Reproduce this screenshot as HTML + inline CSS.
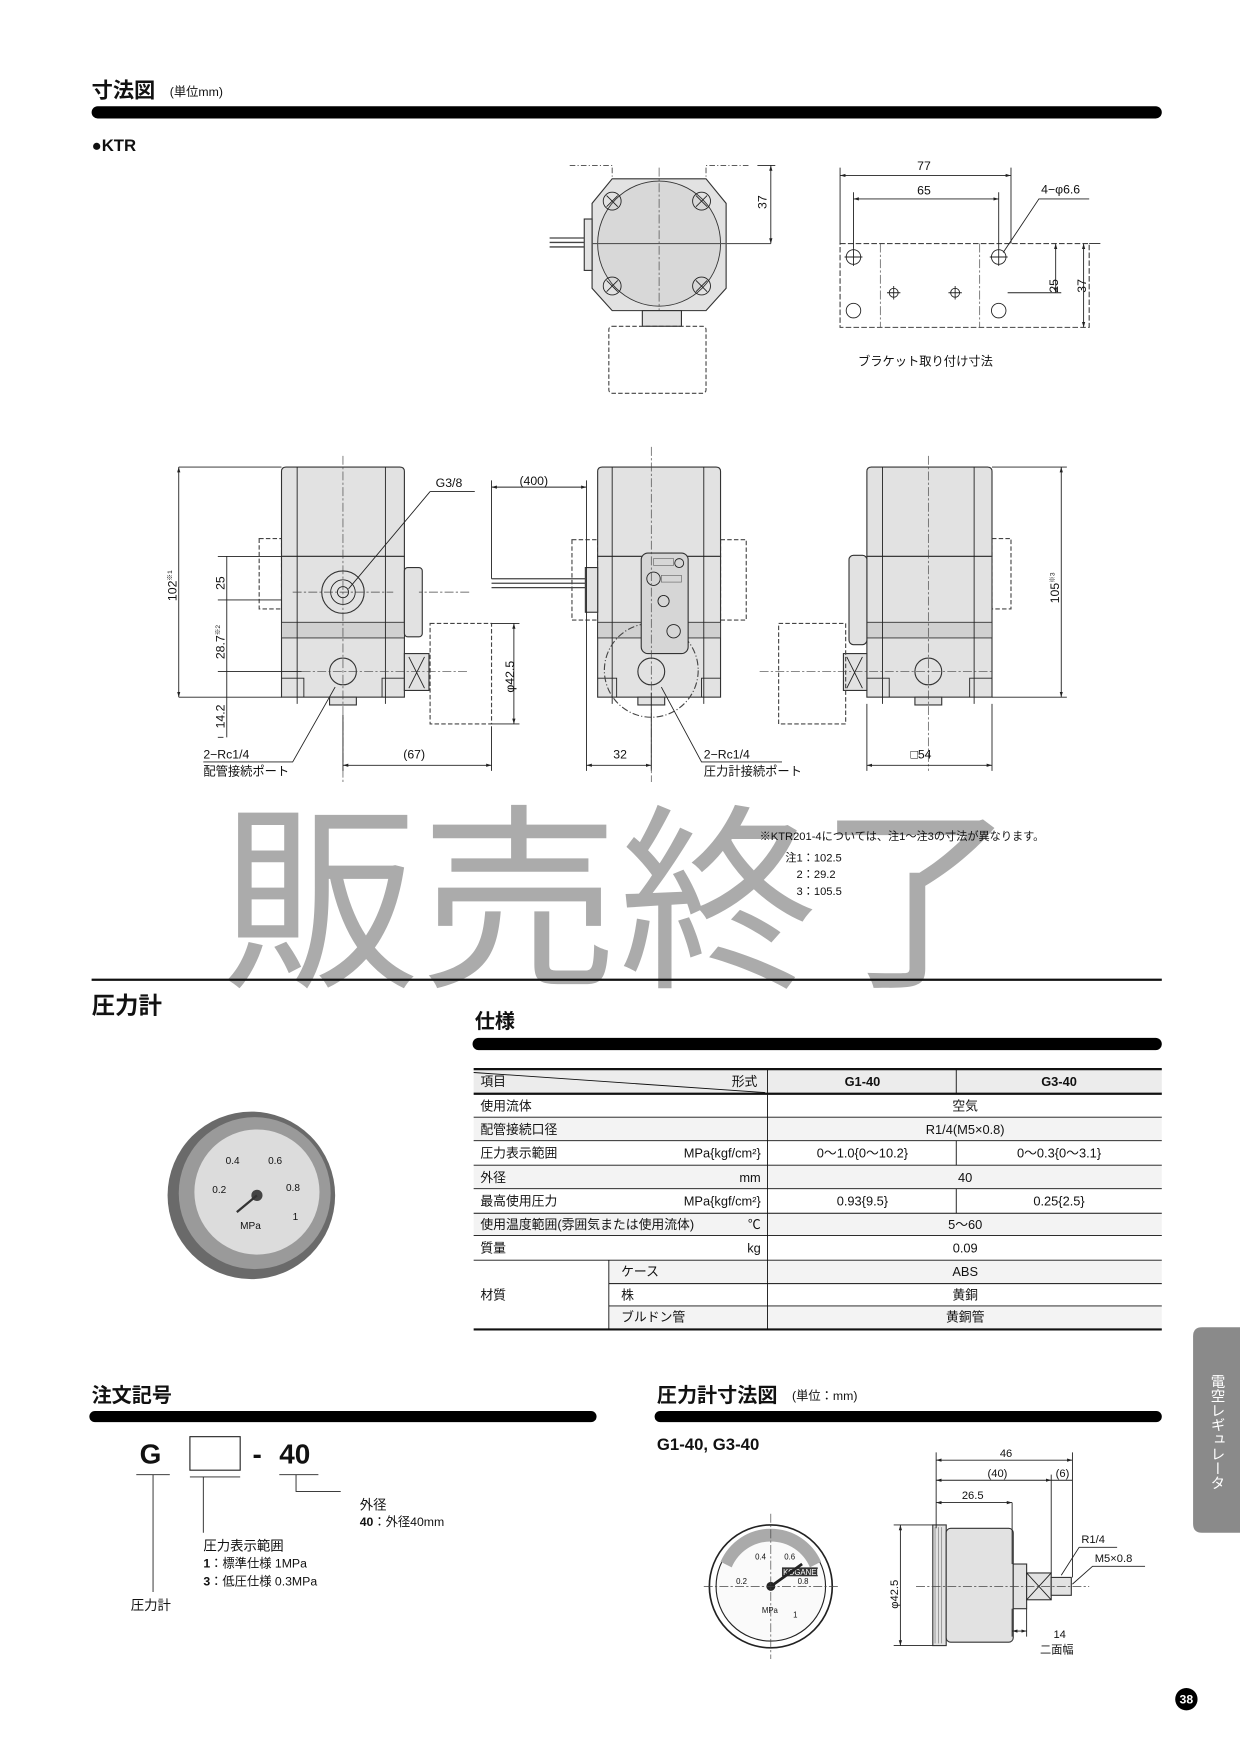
<!DOCTYPE html>
<html><head><meta charset="utf-8">
<style>
html,body{margin:0;padding:0;background:#fff;}
svg{display:block;}
text{font-family:"Liberation Sans","Noto Sans CJK JP",sans-serif;fill:#111;}
.b{fill:#e2e2e2;stroke:#333;stroke-width:1;}
.l{stroke:#222;stroke-width:0.8;fill:none;}
.d{stroke:#444;stroke-width:0.8;fill:none;stroke-dasharray:5 2 1 2;}
.c{stroke:#444;stroke-width:0.6;fill:none;stroke-dasharray:8 2 2 2;}
.t{font-size:11px;}
.s{font-size:10px;}
</style></head><body>
<svg width="1240" height="1754" viewBox="0 0 1110 1570" xmlns="http://www.w3.org/2000/svg">
<defs>
<marker id="a" viewBox="0 0 10 10" refX="10" refY="5" markerWidth="6" markerHeight="6" orient="auto-start-reverse"><path d="M0,2L10,5L0,8z" fill="#222"/></marker>
</defs>

<!-- header -->
<text x="82" y="87" font-size="19" font-weight="bold">寸法図</text>
<text x="152" y="86" font-size="11">(単位mm)</text>
<rect x="82" y="95" width="958" height="11" rx="5.5" fill="#000"/>
<text x="82" y="135" font-size="15" font-weight="bold">●KTR</text>

<!-- top view -->
<path class="d" d="M510,148 H548 V160 M670,148 H632 V160"/>
<path class="b" d="M548,160 H632 L650,182 V258 L632,278 H548 L530,258 V182 Z"/>
<ellipse cx="590" cy="218" rx="55" ry="56" fill="#d8d8d8" stroke="#333" stroke-width="0.8"/>
<g class="l">
<circle cx="548" cy="180" r="8"/><path d="M543,175l10,10M553,175l-10,10"/>
<circle cx="628" cy="180" r="8"/><path d="M623,175l10,10M633,175l-10,10"/>
<circle cx="548" cy="256" r="8"/><path d="M543,251l10,10M553,251l-10,10"/>
<circle cx="628" cy="256" r="8"/><path d="M623,251l10,10M633,251l-10,10"/>
</g>
<rect x="523" y="196" width="7" height="46" class="b"/>
<path d="M492,213H523M492,217H523M492,221H523" stroke="#444" stroke-width="1.2"/>
<line x1="590" y1="150" x2="590" y2="290" class="c"/>
<line x1="530" y1="218" x2="690" y2="218" stroke="#555" stroke-width="1"/>
<rect x="575" y="278" width="35" height="14" class="b"/>
<rect x="545" y="292" width="87" height="60" rx="3" fill="none" stroke="#444" stroke-dasharray="4 2"/>
<line x1="678" y1="148" x2="694" y2="148" class="l"/><line x1="690" y1="148" x2="690" y2="218" class="l" marker-start="url(#a)" marker-end="url(#a)"/>
<text transform="translate(686,187) rotate(-90)" class="t">37</text>

<!-- bracket -->
<rect x="752" y="218" width="223" height="75" fill="none" stroke="#444" stroke-dasharray="5 2"/>
<path class="c" d="M788,218V293M877,218V293"/>
<g class="l">
<circle cx="764" cy="230" r="6.5"/><circle cx="894" cy="230" r="6.5"/>
<circle cx="764" cy="278" r="6.5"/><circle cx="894" cy="278" r="6.5"/>
<circle cx="800" cy="262" r="4"/><circle cx="855" cy="262" r="4"/>
<path d="M794,262h12M800,256v12M849,262h12M855,256v12M756,230h16M764,222v16M886,230h16M894,222v16"/>
<path d="M752,150V218M905,150V218M764,172V222M894,172V222"/>
</g>
<line x1="752" y1="157" x2="905" y2="157" class="l" marker-start="url(#a)" marker-end="url(#a)"/>
<line x1="764" y1="178" x2="894" y2="178" class="l" marker-start="url(#a)" marker-end="url(#a)"/>
<text x="821" y="152" class="t">77</text><text x="821" y="174" class="t">65</text>
<text x="932" y="173" class="t">4−φ6.6</text>
<path class="l" d="M975,178H930L898,226"/>
<path class="l" d="M902,262H950M975,218H985"/>
<line x1="945" y1="218" x2="945" y2="262" class="l" marker-start="url(#a)" marker-end="url(#a)"/>
<line x1="970" y1="218" x2="970" y2="293" class="l" marker-start="url(#a)" marker-end="url(#a)"/>
<text transform="translate(947,262) rotate(-90)" class="t">25</text>
<text transform="translate(972,262) rotate(-90)" class="t">37</text>
<text x="768" y="327" class="t">ブラケット取り付け寸法</text>

<!-- view 1 -->
<rect x="232" y="482" width="20" height="63" fill="none" stroke="#444" stroke-dasharray="4 2"/>
<path class="b" d="M252,498V422Q252,418 256,418H358Q362,418 362,422V498Z"/>
<rect x="252" y="498" width="110" height="126" class="b"/>
<rect x="252" y="557" width="110" height="14" fill="#d0d0d0" stroke="#333" stroke-width="0.8"/>
<path class="l" d="M266,418V630M345,418V630M252,607H272V624M362,607H342V624"/>
<rect x="362" y="508" width="16" height="62" rx="3" class="b"/>
<circle cx="307" cy="530" r="19" class="b"/><circle cx="307" cy="530" r="11" class="l"/><circle cx="307" cy="530" r="5" class="l"/>
<circle cx="307" cy="601" r="12" class="b"/>
<rect x="295" y="624" width="24" height="7" class="b"/>
<rect x="362" y="585" width="22" height="33" class="b"/><path class="l" d="M366,588l14,28M380,588l-14,28"/>
<rect x="385" y="558" width="55" height="90" fill="none" stroke="#444" stroke-dasharray="4 2"/>
<path class="c" d="M307,408V700M262,530H352M270,601H420M420,530H375"/>
<path class="l" d="M160,418H252M160,624H252M195,498H252M195,537H252M195,601H270M195,660H200M440,558H465M440,648H465M307,640V690M440,650V690"/>
<line x1="160" y1="418" x2="160" y2="624" class="l" marker-start="url(#a)" marker-end="url(#a)"/>
<line x1="203" y1="498" x2="203" y2="537" class="l"/>
<line x1="203" y1="537" x2="203" y2="601" class="l"/>
<line x1="203" y1="601" x2="203" y2="660" class="l"/>
<line x1="460" y1="558" x2="460" y2="648" class="l" marker-start="url(#a)" marker-end="url(#a)"/>
<text transform="translate(158,538) rotate(-90)" class="t">102<tspan font-size="6" dy="-4">※1</tspan></text>
<text transform="translate(201,528) rotate(-90)" class="t">25</text>
<text transform="translate(201,590) rotate(-90)" class="t">28.7<tspan font-size="6" dy="-4">※2</tspan></text>
<text transform="translate(201,652) rotate(-90)" class="t">14.2</text>
<text transform="translate(460,620) rotate(-90)" class="t">φ42.5</text>
<text x="390" y="436" class="t">G3/8</text>
<path class="l" d="M385,440H425M385,440L312,527"/>
<line x1="307" y1="685" x2="440" y2="685" class="l" marker-start="url(#a)" marker-end="url(#a)"/>
<text x="361" y="679" class="t">(67)</text>
<text x="182" y="679" class="t">2−Rc1/4</text>
<text x="182" y="694" class="t">配管接続ポート</text>
<path class="l" d="M182,682H262L300,615"/>

<!-- view 2 -->
<rect x="512" y="483" width="23" height="72" fill="none" stroke="#444" stroke-dasharray="4 2"/>
<rect x="645" y="483" width="23" height="72" fill="none" stroke="#444" stroke-dasharray="4 2"/>
<path class="b" d="M535,498V422Q535,418 539,418H641Q645,418 645,422V498Z"/>
<rect x="535" y="498" width="110" height="126" class="b"/>
<rect x="535" y="557" width="110" height="14" fill="#d0d0d0" stroke="#333" stroke-width="0.8"/>
<path class="l" d="M548,418V630M630,418V630M535,607H552V624M645,607H628V624"/>
<circle cx="583" cy="600" r="42" fill="none" stroke="#444" stroke-dasharray="6 2 1 2"/>
<rect x="574" y="495" width="42" height="90" rx="6" fill="#d6d6d6" stroke="#333"/>
<rect x="585" y="500" width="18" height="6" fill="none" stroke="#555" stroke-width="0.5"/>
<rect x="592" y="515" width="18" height="6" fill="none" stroke="#555" stroke-width="0.5"/>
<g class="l"><circle cx="608" cy="504" r="4"/><circle cx="585" cy="518" r="6"/><circle cx="594" cy="538" r="5"/><circle cx="603" cy="565" r="6"/></g>
<circle cx="583" cy="601" r="12" class="b"/>
<rect x="571" y="624" width="24" height="7" class="b"/>
<rect x="524" y="508" width="11" height="40" class="b"/>
<path d="M440,518H524M440,522H524M440,526H524" stroke="#444" stroke-width="1.1"/>
<path class="c" d="M583,400V700"/>
<path class="l" d="M440,430V518M525,430V690M583,620V690"/>
<line x1="440" y1="436" x2="525" y2="436" class="l" marker-start="url(#a)" marker-end="url(#a)"/>
<text x="465" y="434" class="t">(400)</text>
<line x1="525" y1="685" x2="583" y2="685" class="l" marker-start="url(#a)" marker-end="url(#a)"/>
<text x="549" y="679" class="t">32</text>
<text x="630" y="679" class="t">2−Rc1/4</text>
<text x="630" y="694" class="t">圧力計接続ポート</text>
<path class="l" d="M700,682H628L592,615"/>

<!-- view 3 -->
<rect x="888" y="482" width="17" height="63" fill="none" stroke="#444" stroke-dasharray="4 2"/>
<path class="b" d="M776,498V422Q776,418 780,418H884Q888,418 888,422V498Z"/>
<rect x="776" y="498" width="112" height="126" class="b"/>
<rect x="776" y="557" width="112" height="14" fill="#d0d0d0" stroke="#333" stroke-width="0.8"/>
<path class="l" d="M790,418V630M872,418V630M776,607H796V624M888,607H868V624"/>
<rect x="760" y="497" width="16" height="80" rx="4" class="b"/>
<circle cx="831" cy="601" r="12" class="b"/>
<rect x="819" y="624" width="24" height="7" class="b"/>
<rect x="755" y="585" width="21" height="33" class="b"/><path class="l" d="M758,588l14,28M772,588l-14,28"/>
<rect x="697" y="558" width="60" height="90" fill="none" stroke="#444" stroke-dasharray="4 2"/>
<path class="c" d="M831,408V690M680,601H890"/>
<path class="l" d="M888,418H955M888,624H955M776,630V690M888,630V690"/>
<line x1="950" y1="418" x2="950" y2="624" class="l" marker-start="url(#a)" marker-end="url(#a)"/>
<text transform="translate(948,540) rotate(-90)" class="t">105<tspan font-size="6" dy="-4">※3</tspan></text>
<line x1="776" y1="685" x2="888" y2="685" class="l" marker-start="url(#a)" marker-end="url(#a)"/>
<text x="815" y="679" class="t">□54</text>

<!-- watermark -->
<text x="198" y="870" font-size="178" style="fill:#ababab" font-family="Noto Sans CJK JP">販売終了</text>

<!-- notes -->
<text x="680" y="752" class="s">※KTR201-4については、注1～注3の寸法が異なります。</text>
<text x="703" y="771" class="s">注1：102.5</text>
<text x="713" y="786" class="s">2：29.2</text>
<text x="713" y="801" class="s">3：105.5</text>

<line x1="82" y1="877" x2="1040" y2="877" stroke="#111" stroke-width="2"/>
<text x="82" y="907" font-size="21" font-weight="bold">圧力計</text>

<!-- spec -->
<text x="425" y="920" font-size="18" font-weight="bold">仕様</text>
<rect x="423" y="929" width="617" height="11" rx="5.5" fill="#000"/>
<g>
<rect x="424" y="957" width="616" height="22" fill="#ececec"/>
<rect x="424" y="1000" width="616" height="21" fill="#f3f3f3"/>
<rect x="424" y="1043" width="616" height="21" fill="#f3f3f3"/>
<rect x="424" y="1086" width="616" height="20" fill="#f3f3f3"/>
<rect x="545" y="1128" width="495" height="21" fill="#f3f3f3"/>
<rect x="545" y="1169" width="495" height="21" fill="#f3f3f3"/>
</g>
<g stroke="#111">
<line x1="424" y1="957" x2="1040" y2="957" stroke-width="2"/>
<line x1="424" y1="979" x2="1040" y2="979" stroke-width="2"/>
<line x1="424" y1="1190" x2="1040" y2="1190" stroke-width="2"/>
<g stroke-width="0.8">
<line x1="424" y1="1000" x2="1040" y2="1000"/><line x1="424" y1="1021" x2="1040" y2="1021"/>
<line x1="424" y1="1043" x2="1040" y2="1043"/><line x1="424" y1="1064" x2="1040" y2="1064"/>
<line x1="424" y1="1086" x2="1040" y2="1086"/><line x1="424" y1="1106" x2="1040" y2="1106"/>
<line x1="424" y1="1128" x2="1040" y2="1128"/>
<line x1="545" y1="1149" x2="1040" y2="1149"/><line x1="545" y1="1169" x2="1040" y2="1169"/>
<line x1="687" y1="957" x2="687" y2="1190"/><line x1="545" y1="1128" x2="545" y2="1190"/>
<line x1="856" y1="957" x2="856" y2="979"/><line x1="856" y1="1021" x2="856" y2="1043"/><line x1="856" y1="1064" x2="856" y2="1086"/>
<line x1="424" y1="960" x2="685" y2="978"/>
</g></g>
<g font-size="11.5">
<text x="430" y="972">項目</text><text x="655" y="972">形式</text>
<text x="772" y="972" font-weight="bold" text-anchor="middle">G1-40</text>
<text x="948" y="972" font-weight="bold" text-anchor="middle">G3-40</text>
<text x="430" y="994">使用流体</text><text x="864" y="994" text-anchor="middle">空気</text>
<text x="430" y="1015">配管接続口径</text><text x="864" y="1015" text-anchor="middle">R1/4(M5×0.8)</text>
<text x="430" y="1036">圧力表示範囲</text><text x="681" y="1036" text-anchor="end">MPa{kgf/cm²}</text>
<text x="772" y="1036" text-anchor="middle">0～1.0{0～10.2}</text><text x="948" y="1036" text-anchor="middle">0～0.3{0～3.1}</text>
<text x="430" y="1058">外径</text><text x="681" y="1058" text-anchor="end">mm</text><text x="864" y="1058" text-anchor="middle">40</text>
<text x="430" y="1079">最高使用圧力</text><text x="681" y="1079" text-anchor="end">MPa{kgf/cm²}</text>
<text x="772" y="1079" text-anchor="middle">0.93{9.5}</text><text x="948" y="1079" text-anchor="middle">0.25{2.5}</text>
<text x="430" y="1100">使用温度範囲(雰囲気または使用流体)</text><text x="681" y="1100" text-anchor="end">℃</text><text x="864" y="1100" text-anchor="middle">5～60</text>
<text x="430" y="1121">質量</text><text x="681" y="1121" text-anchor="end">kg</text><text x="864" y="1121" text-anchor="middle">0.09</text>
<text x="430" y="1163">材質</text>
<text x="556" y="1142">ケース</text><text x="864" y="1142" text-anchor="middle">ABS</text>
<text x="556" y="1163">株</text><text x="864" y="1163" text-anchor="middle">黄銅</text>
<text x="556" y="1183">ブルドン管</text><text x="864" y="1183" text-anchor="middle">黄銅管</text>
</g>

<!-- gauge photo -->
<circle cx="225" cy="1070" r="75" fill="#6a6a6a"/>
<circle cx="228" cy="1068" r="68" fill="#9a9a9a"/>
<circle cx="230" cy="1067" r="56" fill="#dcdcdc"/>
<g font-size="9" fill="#555"><text x="202" y="1042">0.4</text><text x="240" y="1042">0.6</text><text x="190" y="1068">0.2</text><text x="256" y="1066">0.8</text><text x="262" y="1092">1</text><text x="215" y="1100">MPa</text></g>
<circle cx="230" cy="1070" r="5" fill="#444"/>
<line x1="230" y1="1070" x2="212" y2="1085" stroke="#333" stroke-width="2"/>

<!-- order code -->
<text x="82" y="1255" font-size="18" font-weight="bold">注文記号</text>
<rect x="80" y="1263" width="454" height="10" rx="5" fill="#000"/>
<text x="125" y="1310" font-size="25" font-weight="bold">G</text>
<rect x="170" y="1286" width="45" height="30" fill="none" stroke="#222"/>
<text x="226" y="1310" font-size="25" font-weight="bold">-</text>
<text x="250" y="1310" font-size="25" font-weight="bold">40</text>
<path class="l" d="M122,1320H152M137,1320V1425M170,1322H215M182,1322V1372M250,1320H285M265,1320V1335H305"/>
<text x="322" y="1351" font-size="12">外径</text>
<text x="322" y="1366" font-size="11"><tspan font-weight="bold">40</tspan>：外径40mm</text>
<text x="182" y="1388" font-size="12">圧力表示範囲</text>
<text x="182" y="1403" font-size="11"><tspan font-weight="bold">1</tspan>：標準仕様 1MPa</text>
<text x="182" y="1419" font-size="11"><tspan font-weight="bold">3</tspan>：低圧仕様 0.3MPa</text>
<text x="117" y="1441" font-size="12">圧力計</text>

<!-- gauge dims -->
<text x="588" y="1255" font-size="18" font-weight="bold">圧力計寸法図</text>
<text x="709" y="1253" font-size="11">(単位：mm)</text>
<rect x="586" y="1263" width="454" height="10" rx="5" fill="#000"/>
<text x="588" y="1298" font-size="15" font-weight="bold">G1-40, G3-40</text>
<circle cx="690" cy="1420" r="55" fill="#fff" stroke="#222" stroke-width="1.5"/>
<circle cx="690" cy="1420" r="49" fill="#fafafa" stroke="#222"/>
<path d="M645,1398A49,49 0 0 1 735,1398L725,1403A38,38 0 0 0 655,1403Z" fill="#aaa"/>
<g font-size="7"><text x="676" y="1396">0.4</text><text x="702" y="1396">0.6</text><text x="659" y="1418">0.2</text><text x="714" y="1418">0.8</text><text x="710" y="1448">1</text><text x="682" y="1444">MPa</text></g>
<rect x="700" y="1403" width="32" height="8" fill="#333"/><text x="701" y="1410" font-size="7" style="fill:#fff">KOGANEI</text>
<circle cx="690" cy="1420" r="4" fill="#222"/>
<line x1="690" y1="1420" x2="718" y2="1400" stroke="#222" stroke-width="2.5"/>
<path class="c" d="M690,1355V1485M630,1420H750"/>
<!-- side -->
<rect x="835" y="1365" width="12" height="108" class="b"/>
<path d="M837,1367V1471M840,1367V1471M843,1367V1471" stroke="#666" stroke-width="0.5"/>
<rect x="847" y="1368" width="60" height="102" rx="4" class="b"/>
<rect x="907" y="1400" width="12" height="40" class="b"/>
<rect x="919" y="1408" width="22" height="24" class="b"/>
<path class="l" d="M919,1408l22,24M941,1408l-22,24"/>
<rect x="941" y="1412" width="18" height="16" class="b"/>
<path class="c" d="M820,1420H975"/>
<path class="l" d="M838,1300V1368M941,1320V1408M960,1300V1412M800,1365H835M800,1473H835M906,1440V1465M919,1440V1465"/>
<line x1="838" y1="1307" x2="960" y2="1307" class="l" marker-start="url(#a)" marker-end="url(#a)"/>
<line x1="838" y1="1325" x2="941" y2="1325" class="l" marker-start="url(#a)" marker-end="url(#a)"/>
<line x1="941" y1="1325" x2="960" y2="1325" class="l"/>
<line x1="838" y1="1345" x2="906" y2="1345" class="l" marker-start="url(#a)" marker-end="url(#a)"/>
<line x1="906" y1="1345" x2="906" y2="1400" class="l"/>
<line x1="806" y1="1365" x2="806" y2="1473" class="l" marker-start="url(#a)" marker-end="url(#a)"/>
<line x1="906" y1="1460" x2="919" y2="1460" class="l" marker-start="url(#a)" marker-end="url(#a)"/>
<text x="895" y="1304" class="s">46</text><text x="884" y="1322" class="s">(40)</text><text x="945" y="1322" class="s">(6)</text>
<text x="861" y="1342" class="s">26.5</text>
<text transform="translate(804,1440) rotate(-90)" class="s">φ42.5</text>
<text x="968" y="1381" class="s">R1/4</text><text x="980" y="1398" class="s">M5×0.8</text>
<path class="l" d="M1000,1385H966L950,1410M1025,1402H978L960,1418"/>
<text x="943" y="1466" class="s">14</text><text x="931" y="1480" class="s">二面幅</text>

<!-- side tab -->
<path d="M1110,1188H1076Q1068,1188 1068,1196V1364Q1068,1372 1076,1372H1110Z" fill="#8a8a8a"/>
<text x="1089" y="1230" font-size="13" style="fill:#fff;writing-mode:vertical-rl" text-anchor="start">電空レギュレータ</text>
<!-- page number -->
<circle cx="1062" cy="1521" r="10" fill="#000"/>
<text x="1062" y="1525" font-size="11" font-weight="bold" text-anchor="middle" style="fill:#fff">38</text>
</svg>
</body></html>
